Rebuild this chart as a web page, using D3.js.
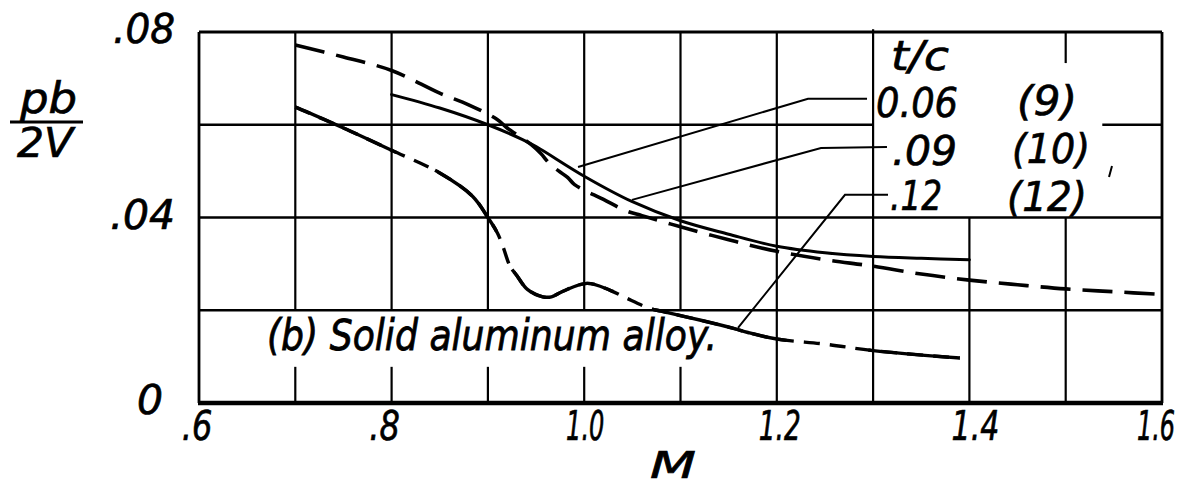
<!DOCTYPE html>
<html><head><meta charset="utf-8">
<script src="https://cdn.jsdelivr.net/npm/d3@7"></script>
<style>
html,body{margin:0;padding:0;background:#fff;}
svg{display:block;}
text{font-family:"DejaVu Sans",sans-serif;font-style:italic;fill:#000;stroke:#000;stroke-width:0.7px;}
</style></head><body>
<svg id="chart" width="1183" height="490"></svg>
<script>
// ---------------- DATA ----------------
const xTicks = [0.6, 0.8, 1.0, 1.2, 1.4, 1.6];
const xTickLabels = [".6", ".8", "1.0", "1.2", "1.4", "1.6"];
const yTicks = [0, 0.04, 0.08];
const yTickLabels = ["0", ".04", ".08"];
const gridM = [0.7, 0.8, 0.9, 1.0, 1.1, 1.2, 1.3, 1.4, 1.5];
const gridV = [0.02, 0.04, 0.06];
const legendTitle = "t/c";
const legendTC = ["0.06", ".09", ".12"];
const legendRef = ["(9)", "(10)", "(12)"];
const xTitle = "M";
const yTitleTop = "pb";
const yTitleBottom = "2V";
const noteText = "(b) Solid aluminum alloy.";

// t/c = 0.06 (9) : solid
const curveTC006 = [
  [0.80, 0.0665], [0.85, 0.0636], [0.90, 0.0600], [0.936, 0.0568], [0.95, 0.0553],
  [1.00, 0.0489], [1.05, 0.0434], [1.10, 0.0393], [1.15, 0.0364], [1.20, 0.0338],
  [1.25, 0.0324], [1.30, 0.0316], [1.35, 0.0312], [1.40, 0.0309]
];
// t/c = 0.09 (10) : long dashes
const curveTC009 = [
  [0.70, 0.0772], [0.75, 0.0746], [0.80, 0.0717], [0.85, 0.0668], [0.88, 0.0643],
  [0.91, 0.0611], [0.92, 0.0593], [0.945, 0.0557], [0.955, 0.0538], [0.965, 0.0514],
  [0.983, 0.0486], [0.99, 0.0471], [1.02, 0.0439], [1.044, 0.0414], [1.06, 0.0404],
  [1.10, 0.0380], [1.15, 0.0352], [1.20, 0.0327], [1.25, 0.0309], [1.30, 0.0295],
  [1.35, 0.0278], [1.40, 0.0265], [1.45, 0.0255], [1.50, 0.0246], [1.55, 0.0240],
  [1.60, 0.0234]
];
// t/c = 0.12 (12) : mixed solid / dashed
const curveTC012 = [
  [0.70, 0.0638], [0.75, 0.0593], [0.80, 0.0545], [0.85, 0.0496], [0.884, 0.0446],
  [0.90, 0.0400], [0.91, 0.0366], [0.916, 0.0335], [0.923, 0.0295], [0.93, 0.0275],
  [0.941, 0.0245], [0.957, 0.0229], [0.966, 0.0229], [0.978, 0.0241], [1.003, 0.0258],
  [1.027, 0.0243], [1.044, 0.0226], [1.068, 0.0204], [1.08, 0.0198], [1.12, 0.0179],
  [1.155, 0.0161], [1.17, 0.0152], [1.20, 0.0138], [1.25, 0.0127], [1.30, 0.0113],
  [1.39, 0.0097]
];

// ---------------- LAYOUT / STYLE ----------------
const W = 1183, H = 490;
const plot = {left: 199, right: 1162, top: 32, bottom: 403};
const x = d3.scaleLinear().domain([0.6, 1.6]).range([plot.left, plot.right]);
const y = d3.scaleLinear().domain([0, 0.08]).range([plot.bottom, plot.top]);

function vSpans(m) {
  const k = Math.round(m * 10) / 10;
  if (k <= 1.1) return [[0, 0.0078], [0.02, 0.08]];
  if (k === 1.2) return [[0, 0.08]];
  if (k === 1.3) return [[0, 0.0806]];
  if (k === 1.4) return [[0, 0.04]];
  if (k === 1.5) return [[0, 0.04], [0.0733, 0.08]];
  return [[0, 0.08]];
}
function hSpans(v) {
  if (Math.abs(v - 0.06) < 1e-6) return [[0.6, 1.30], [1.538, 1.6]];
  return [[0.6, 1.6]];
}
const solidSpans012 = [[0.70, 0.805], [0.845, 0.909], [0.925, 1.03], [1.07, 1.21], [1.295, 1.39]];
const xLabelDx = [-2, -7, 1, 3, 6, -6];
const xLabelScaleX = [0.8, 0.8, 0.6, 0.66, 0.75, 0.6];
const yLabelEnd = [163, 175, 175];
const yLabelW = [26, 65, 62];

const leaders = [
  [[0.9936, 0.0509], [1.2324, 0.0656], [1.2937, 0.0656]],
  [[1.0496, 0.0438], [1.2459, 0.0550], [1.3144, 0.0552]],
  [[1.1597, 0.0162], [1.2708, 0.0449], [1.3155, 0.0449]]
];
const legendPos = [
  {tc: [876, 117, 82], ref: [1017, 115, 60]},
  {tc: [892, 165, 65], ref: [1012, 163, 78]},
  {tc: [890, 210, 52], ref: [1007, 211, 80]}
];

// ---------------- DRAW ----------------
const svg = d3.select("#chart");
svg.append("rect").attr("width", W).attr("height", H).attr("fill", "#fff");
const g = svg.append("g");

gridM.forEach(m => {
  vSpans(m).forEach(([a, b]) => {
    g.append("line").attr("x1", x(m)).attr("x2", x(m)).attr("y1", y(a)).attr("y2", y(b))
      .attr("stroke", "#000").attr("stroke-width", 2.2);
  });
});
gridV.forEach(v => {
  hSpans(v).forEach(([a, b]) => {
    g.append("line").attr("x1", x(a)).attr("x2", x(b)).attr("y1", y(v)).attr("y2", y(v))
      .attr("stroke", "#000").attr("stroke-width", 2.4);
  });
});
g.append("line").attr("x1", x(0.6)).attr("x2", x(1.6)).attr("y1", y(0.08)).attr("y2", y(0.08)).attr("stroke", "#000").attr("stroke-width", 2.8);
g.append("line").attr("x1", x(0.6)).attr("x2", x(0.6)).attr("y1", y(0.08)).attr("y2", y(0)).attr("stroke", "#000").attr("stroke-width", 2.8);
g.append("line").attr("x1", x(1.6)).attr("x2", x(1.6)).attr("y1", y(0.08)).attr("y2", y(0)).attr("stroke", "#000").attr("stroke-width", 2.8);
g.append("line").attr("x1", x(0.6) - 1).attr("x2", x(1.6) + 1).attr("y1", y(0)).attr("y2", y(0)).attr("stroke", "#000").attr("stroke-width", 4.5);

const line = d3.line().x(d => x(d[0])).y(d => y(d[1])).curve(d3.curveCatmullRom.alpha(0.5));

g.append("path").attr("d", line(curveTC006)).attr("fill", "none").attr("stroke", "#000")
  .attr("stroke-width", 3).attr("stroke-linecap", "round");

g.append("path").attr("d", line(curveTC009)).attr("fill", "none").attr("stroke", "#000")
  .attr("stroke-width", 3.6).attr("stroke-dasharray", "30,12");

g.append("path").attr("d", line(curveTC012)).attr("fill", "none").attr("stroke", "#000")
  .attr("stroke-width", 3.4).attr("stroke-dasharray", "16,10");
const over012 = g.append("path").attr("d", line(curveTC012)).attr("fill", "none").attr("stroke", "#000")
  .attr("stroke-width", 3.4);
(function () {
  const node = over012.node();
  const total = node.getTotalLength();
  function lenAt(px) {
    let lo = 0, hi = total;
    for (let i = 0; i < 40; i++) {
      const mid = (lo + hi) / 2;
      if (node.getPointAtLength(mid).x < px) lo = mid; else hi = mid;
    }
    return (lo + hi) / 2;
  }
  const arr = [0];
  let prev = 0;
  solidSpans012.forEach(([a, b]) => {
    const la = lenAt(x(a)), lb = lenAt(x(b));
    arr.push(Math.max(0, la - prev), Math.max(0, lb - la));
    prev = lb;
  });
  arr.push(total + 10);
  over012.attr("stroke-dasharray", arr.join(","));
})();

const lline = d3.line().x(d => x(d[0])).y(d => y(d[1]));
leaders.forEach(pts => {
  g.append("path").attr("d", lline(pts)).attr("fill", "none").attr("stroke", "#000").attr("stroke-width", 2);
});

function txt(s, px, py, w, size, anchor) {
  return g.append("text").attr("x", px).attr("y", py).attr("font-size", size)
    .attr("text-anchor", anchor || "start")
    .attr("textLength", w).attr("lengthAdjust", "spacingAndGlyphs").text(s);
}
txt(legendTitle, 891, 70, 58, 40);
legendTC.forEach((s, i) => {
  const p = legendPos[i];
  txt(s, p.tc[0], p.tc[1], p.tc[2], 40);
  txt(legendRef[i], p.ref[0], p.ref[1], p.ref[2], 40);
});
g.append("line").attr("x1", 1112).attr("y1", 166).attr("x2", 1109).attr("y2", 177)
  .attr("stroke", "#000").attr("stroke-width", 2);

// x tick labels (horizontally condensed via transform)
xTicks.forEach((v, i) => {
  g.append("text")
    .attr("transform", `translate(${x(v) + xLabelDx[i]},440) scale(${xLabelScaleX[i]},1)`)
    .attr("text-anchor", "middle").attr("font-size", 40).text(xTickLabels[i]);
});
yTicks.forEach((v, i) => {
  txt(yTickLabels[i], yLabelEnd[i], y(v) + 11, yLabelW[i], 40, "end");
});

txt(xTitle, 650, 478, 46, 38);
txt(yTitleTop, 20, 113, 57, 42);
g.append("line").attr("x1", 10).attr("x2", 83).attr("y1", 122).attr("y2", 122).attr("stroke", "#000").attr("stroke-width", 3);
txt(yTitleBottom, 17, 157, 56, 40);

g.append("text").attr("transform", "translate(267,350) scale(1,1.2)").attr("font-size", 36)
  .attr("textLength", 450).attr("lengthAdjust", "spacingAndGlyphs").text(noteText);
</script>
</body></html>
